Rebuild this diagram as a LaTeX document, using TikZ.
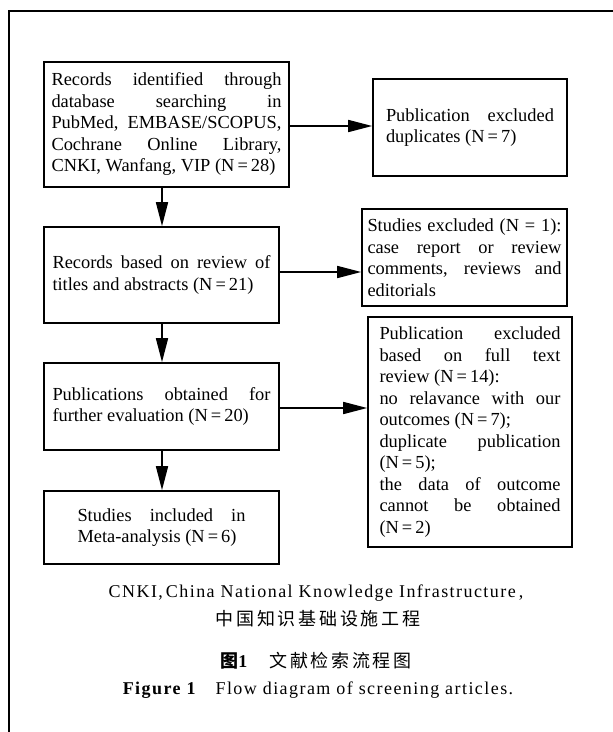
\documentclass[tikz,border=0pt]{standalone}
\usepackage{fontspec}
\setmainfont{Liberation Serif}
\newfontfamily\capfont{Liberation Serif}[LetterSpace=8]
\newfontfamily\cjk{Noto Sans CJK SC}[LetterSpace=15]
\usetikzlibrary{arrows.meta}
\begin{document}
\begin{tikzpicture}[x=1pt,y=-1pt,
  font=\fontsize{18.4pt}{21.5pt}\selectfont,
  box/.style={draw, line width=1.6pt, inner sep=0pt, align=center},
  arr/.style={line width=1.6pt, -{Triangle[length=24pt,width=12pt]}},
  frameline/.style={line width=1.8pt},
  captext/.style={inner sep=0pt, anchor=center}]
\useasboundingbox (0,0) rectangle (613,732);
% open frame
\coordinate (fa) at (9,732);
\coordinate (fb) at (9,11);
\coordinate (fc) at (613,11);
\draw[frameline] (fa) -- (fb) -- (fc);
% left column
\node[box, minimum width=245pt, minimum height=125pt] (b1) at (166.5,124.5)
  {\parbox{230pt}{Records identified through\linebreak database searching in\linebreak PubMed, EMBASE/SCOPUS,\linebreak Cochrane Online Library,\linebreak CNKI, Wanfang, VIP (N\,=\,28)}};
\node[box, minimum width=235pt, minimum height=96pt] (b2) at (161.5,275)
  {\parbox{218pt}{Records based on review of\linebreak titles and abstracts (N\,=\,21)}};
\node[box, minimum width=235pt, minimum height=87pt] (b3) at (161.5,406.5)
  {\parbox{218pt}{Publications obtained for\linebreak further evaluation (N\,=\,20)}};
\node[box, minimum width=235pt, minimum height=73pt] (b4) at (161.5,527.5)
  {\parbox{168pt}{Studies included in\linebreak Meta-analysis (N\,=\,6)}};
% right column
\node[box, minimum width=194pt, minimum height=97pt] (d1) at (470,127.5)
  {\parbox{168pt}{Publication excluded\linebreak duplicates (N\,=\,7)}};
\node[box, minimum width=205pt, minimum height=97pt] (e1) at (464.5,257.5)
  {\parbox{194pt}{Studies excluded (N = 1):\linebreak case report or review\linebreak comments, reviews and\linebreak editorials}};
\node[box, minimum width=204pt, minimum height=230pt] (f1) at (470,432)
  {\parbox{181pt}{Publication excluded\linebreak based on full text\linebreak review (N\,=\,14):\\ no relavance with our\linebreak outcomes (N\,=\,7);\\ duplicate publication\linebreak (N\,=\,5);\\ the data of outcome\linebreak cannot be obtained\linebreak (N\,=\,2)}};
% connectors
\coordinate (vx) at (162,0);
\coordinate (h1) at (0,126);
\coordinate (h2) at (0,272);
\coordinate (h3) at (0,408);
\draw[arr] (b1.south -| vx) -- (b2.north -| vx);
\draw[arr] (b2.south -| vx) -- (b3.north -| vx);
\draw[arr] (b3.south -| vx) -- (b4.north -| vx);
\draw[arr] (b1.east |- h1) -- (d1.west |- h1);
\draw[arr] (b2.east |- h2) -- (e1.west |- h2);
\draw[arr] (b3.east |- h3) -- (f1.west |- h3);
% captions
\node[captext, font=\capfont\fontsize{18pt}{20pt}\selectfont] (c1) at (316,593)
  {CNKI,\,China National Knowledge Infrastructure\,,};
\node[captext, font=\cjk\fontsize{18pt}{20pt}\selectfont] (c2) at (318,619)
  {中国知识基础设施工程};
\node[captext, font=\fontsize{18pt}{20pt}\selectfont] (c3) at (316,661)
  {{\cjk\bfseries 图}{\bfseries 1}\hspace{22pt}{\cjk 文献检索流程图}};
\node[captext, font=\capfont\fontsize{18pt}{20pt}\selectfont] (c4) at (318,690)
  {{\bfseries Figure 1}\hspace{20pt}Flow diagram of screening articles.};
\end{tikzpicture}
\end{document}
